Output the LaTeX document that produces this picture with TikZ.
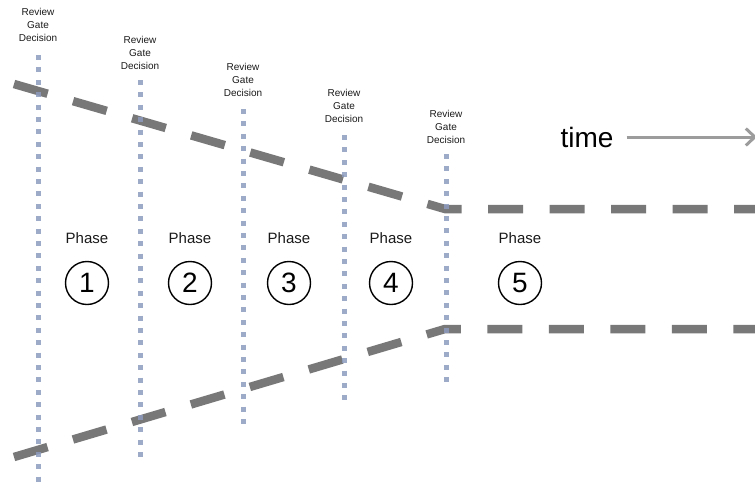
\documentclass[tikz,border=0pt]{standalone}
\usepackage{fontspec}
\setmainfont{Liberation Sans}
\usetikzlibrary{arrows.meta}
\definecolor{gatec}{HTML}{8C9BBE}
\definecolor{boundc}{HTML}{787878}
\definecolor{timec}{HTML}{9C9C9C}
\definecolor{inkc}{HTML}{1A1A1A}
\begin{document}
\begin{tikzpicture}[x=1pt,y=-1pt,
  gateline/.style={gatec, line width=5pt, dash pattern=on 5pt off 7.4pt, opacity=0.85},
  gatelabel/.style={font=\fontsize{10}{12.7}\selectfont, align=center, inner sep=0pt, text=inkc},
  bound/.style={boundc, line width=8.5pt, dash pattern=on 35pt off 26.5pt},
  phaselabel/.style={font=\fontsize{15}{17}\selectfont, inner sep=0pt, text=inkc},
  phasenum/.style={circle, draw=black, line width=1.4pt, minimum size=43pt, inner sep=0pt, font=\fontsize{28}{30}\selectfont},
]
\useasboundingbox (0,0) rectangle (755,482);

% funnel boundaries: narrowing through the gates, then parallel
\coordinate (ua) at (14,84);
\coordinate (uc) at (445,209);
\coordinate (ub) at (762,209);
\coordinate (la) at (14,457);
\coordinate (lc) at (445,329);
\coordinate (lb) at (762,329);
\draw[bound] (ua) -- (uc) -- (ub);
\draw[bound] (la) -- (lc) -- (lb);

% review gates
\foreach \i/\x/\top/\bot/\ly in {1/38/55/485/25, 2/140/80/457/53, 3/243/109/424/80, 4/344/135/400/106, 5/446/154/382/127}{
  \coordinate (gt\i) at (\x,\top);
  \coordinate (gb\i) at (\x,\bot);
  \draw[gateline] (gt\i) -- (gb\i);
  \node[gatelabel] (gl\i) at (\x,\ly) {Review\\Gate\\Decision};
}

% phases
\foreach \i/\x in {1/87, 2/190, 3/289, 4/391, 5/520}{
  \node[phaselabel] (pl\i) at (\x,238) {Phase};
  \node[phasenum] (pn\i) at (\x,283) {\i};
}

% time axis
\node[font=\fontsize{28}{30}\selectfont, inner sep=0pt] (time) at (587,137) {time};
\coordinate (tend) at (757,137);
\draw[timec, line width=3pt, -{Straight Barb[length=9pt,width=17pt,line width=3pt]}] ([xshift=13pt]time.east |- tend) -- (tend);
\end{tikzpicture}
\end{document}
